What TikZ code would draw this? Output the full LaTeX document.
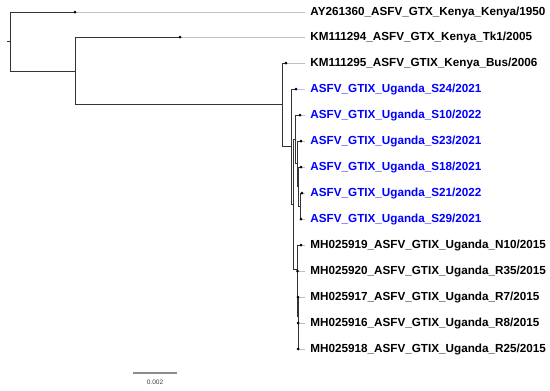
\documentclass[tikz,border=0pt]{standalone}
\usepackage{fontspec}
\setmainfont{Liberation Sans}
\usepackage{xcolor}
\usepackage{tikz}

\begin{document}
\begin{tikzpicture}[x=1pt,y=-1pt,line width=0.9pt,
  br/.style={black!80,line cap=rect},
  lab/.style={anchor=west,inner sep=0pt,font=\bfseries\fontsize{11.7}{13}\selectfont}]
  \useasboundingbox (0,0) rectangle (550,391);
  % internal nodes
  \coordinate (stub) at (7,41.5);
  \coordinate (root) at (10,41.5);
  \coordinate (nA) at (75,71);
  \coordinate (nB) at (282,104.9);
  \coordinate (nC) at (291,146.7);
  \coordinate (nD) at (293,204.4);
  \coordinate (nF) at (295.5,139.4);
  \coordinate (nH) at (297,163.75);
  \coordinate (nI) at (298.5,186.5);
  \coordinate (nJ) at (300,206);
  \coordinate (nE) at (297,269.4);
  \coordinate (nG) at (297.5,293.75);
  \coordinate (nGb) at (298,316.5);
  \coordinate (nGc) at (298.2,336);
  % leaf tips
  \coordinate (tAY) at (75,12);
  \coordinate (tKa) at (180,37);
  \coordinate (tKb) at (286,63);
  \coordinate (tSa) at (296,89);
  \coordinate (tSb) at (300,115);
  \coordinate (tSc) at (301,141);
  \coordinate (tSd) at (301,167);
  \coordinate (tSe) at (302,193);
  \coordinate (tSf) at (301,219);
  \coordinate (tMa) at (301,245);
  \coordinate (tMb) at (297.5,271);
  \coordinate (tMc) at (298,297);
  \coordinate (tMd) at (298.2,323);
  \coordinate (tMe) at (298.2,349);
  % branches
  \draw[br] (stub) -- (root);
  \foreach \p/\c in {root/tAY,root/nA,nA/tKa,nA/nB,nB/tKb,nB/nC,nC/tSa,nC/nD,
    nD/nF,nD/nE,nF/tSb,nF/nH,nH/tSc,nH/nI,nI/tSd,nI/nJ,nJ/tSe,nJ/tSf,
    nE/tMa,nE/nG,nG/tMb,nG/nGb,nGb/tMc,nGb/nGc,nGc/tMd,nGc/tMe}
    \draw[br] (\p) |- (\c);
  % tips and labels
  \foreach \t/\y/\col/\txt in {
    tAY/12/black/{AY261360\_ASFV\_GTX\_Kenya\_Kenya/1950},
    tKa/37/black/{KM111294\_ASFV\_GTX\_Kenya\_Tk1/2005},
    tKb/63/black/{KM111295\_ASFV\_GTIX\_Kenya\_Bus/2006},
    tSa/89/blue/{ASFV\_GTIX\_Uganda\_S24/2021},
    tSb/115/blue/{ASFV\_GTIX\_Uganda\_S10/2022},
    tSc/141/blue/{ASFV\_GTIX\_Uganda\_S23/2021},
    tSd/167/blue/{ASFV\_GTIX\_Uganda\_S18/2021},
    tSe/193/blue/{ASFV\_GTIX\_Uganda\_S21/2022},
    tSf/219/blue/{ASFV\_GTIX\_Uganda\_S29/2021},
    tMa/245/black/{MH025919\_ASFV\_GTIX\_Uganda\_N10/2015},
    tMb/271/black/{MH025920\_ASFV\_GTIX\_Uganda\_R35/2015},
    tMc/297/black/{MH025917\_ASFV\_GTIX\_Uganda\_R7/2015},
    tMd/323/black/{MH025916\_ASFV\_GTIX\_Uganda\_R8/2015},
    tMe/349/black/{MH025918\_ASFV\_GTIX\_Uganda\_R25/2015}}{
    \node[lab,text=\col] (l\t) at (310,\y) {\txt};
    \draw[\col!25,line width=0.6pt] (\t) -- ([xshift=-5pt]l\t.west);
    \fill (\t) circle (1.5pt);
  }
  % scale bar
  \coordinate (sbL) at (133,373);
  \coordinate (sbR) at (177,373);
  \draw[black!45,line width=1.2pt] (sbL) -- (sbR)
    node[midway,below=3pt,font=\fontsize{6.5}{7}\selectfont,text=black!75] (sbLab) {0.002};
\end{tikzpicture}
\end{document}
